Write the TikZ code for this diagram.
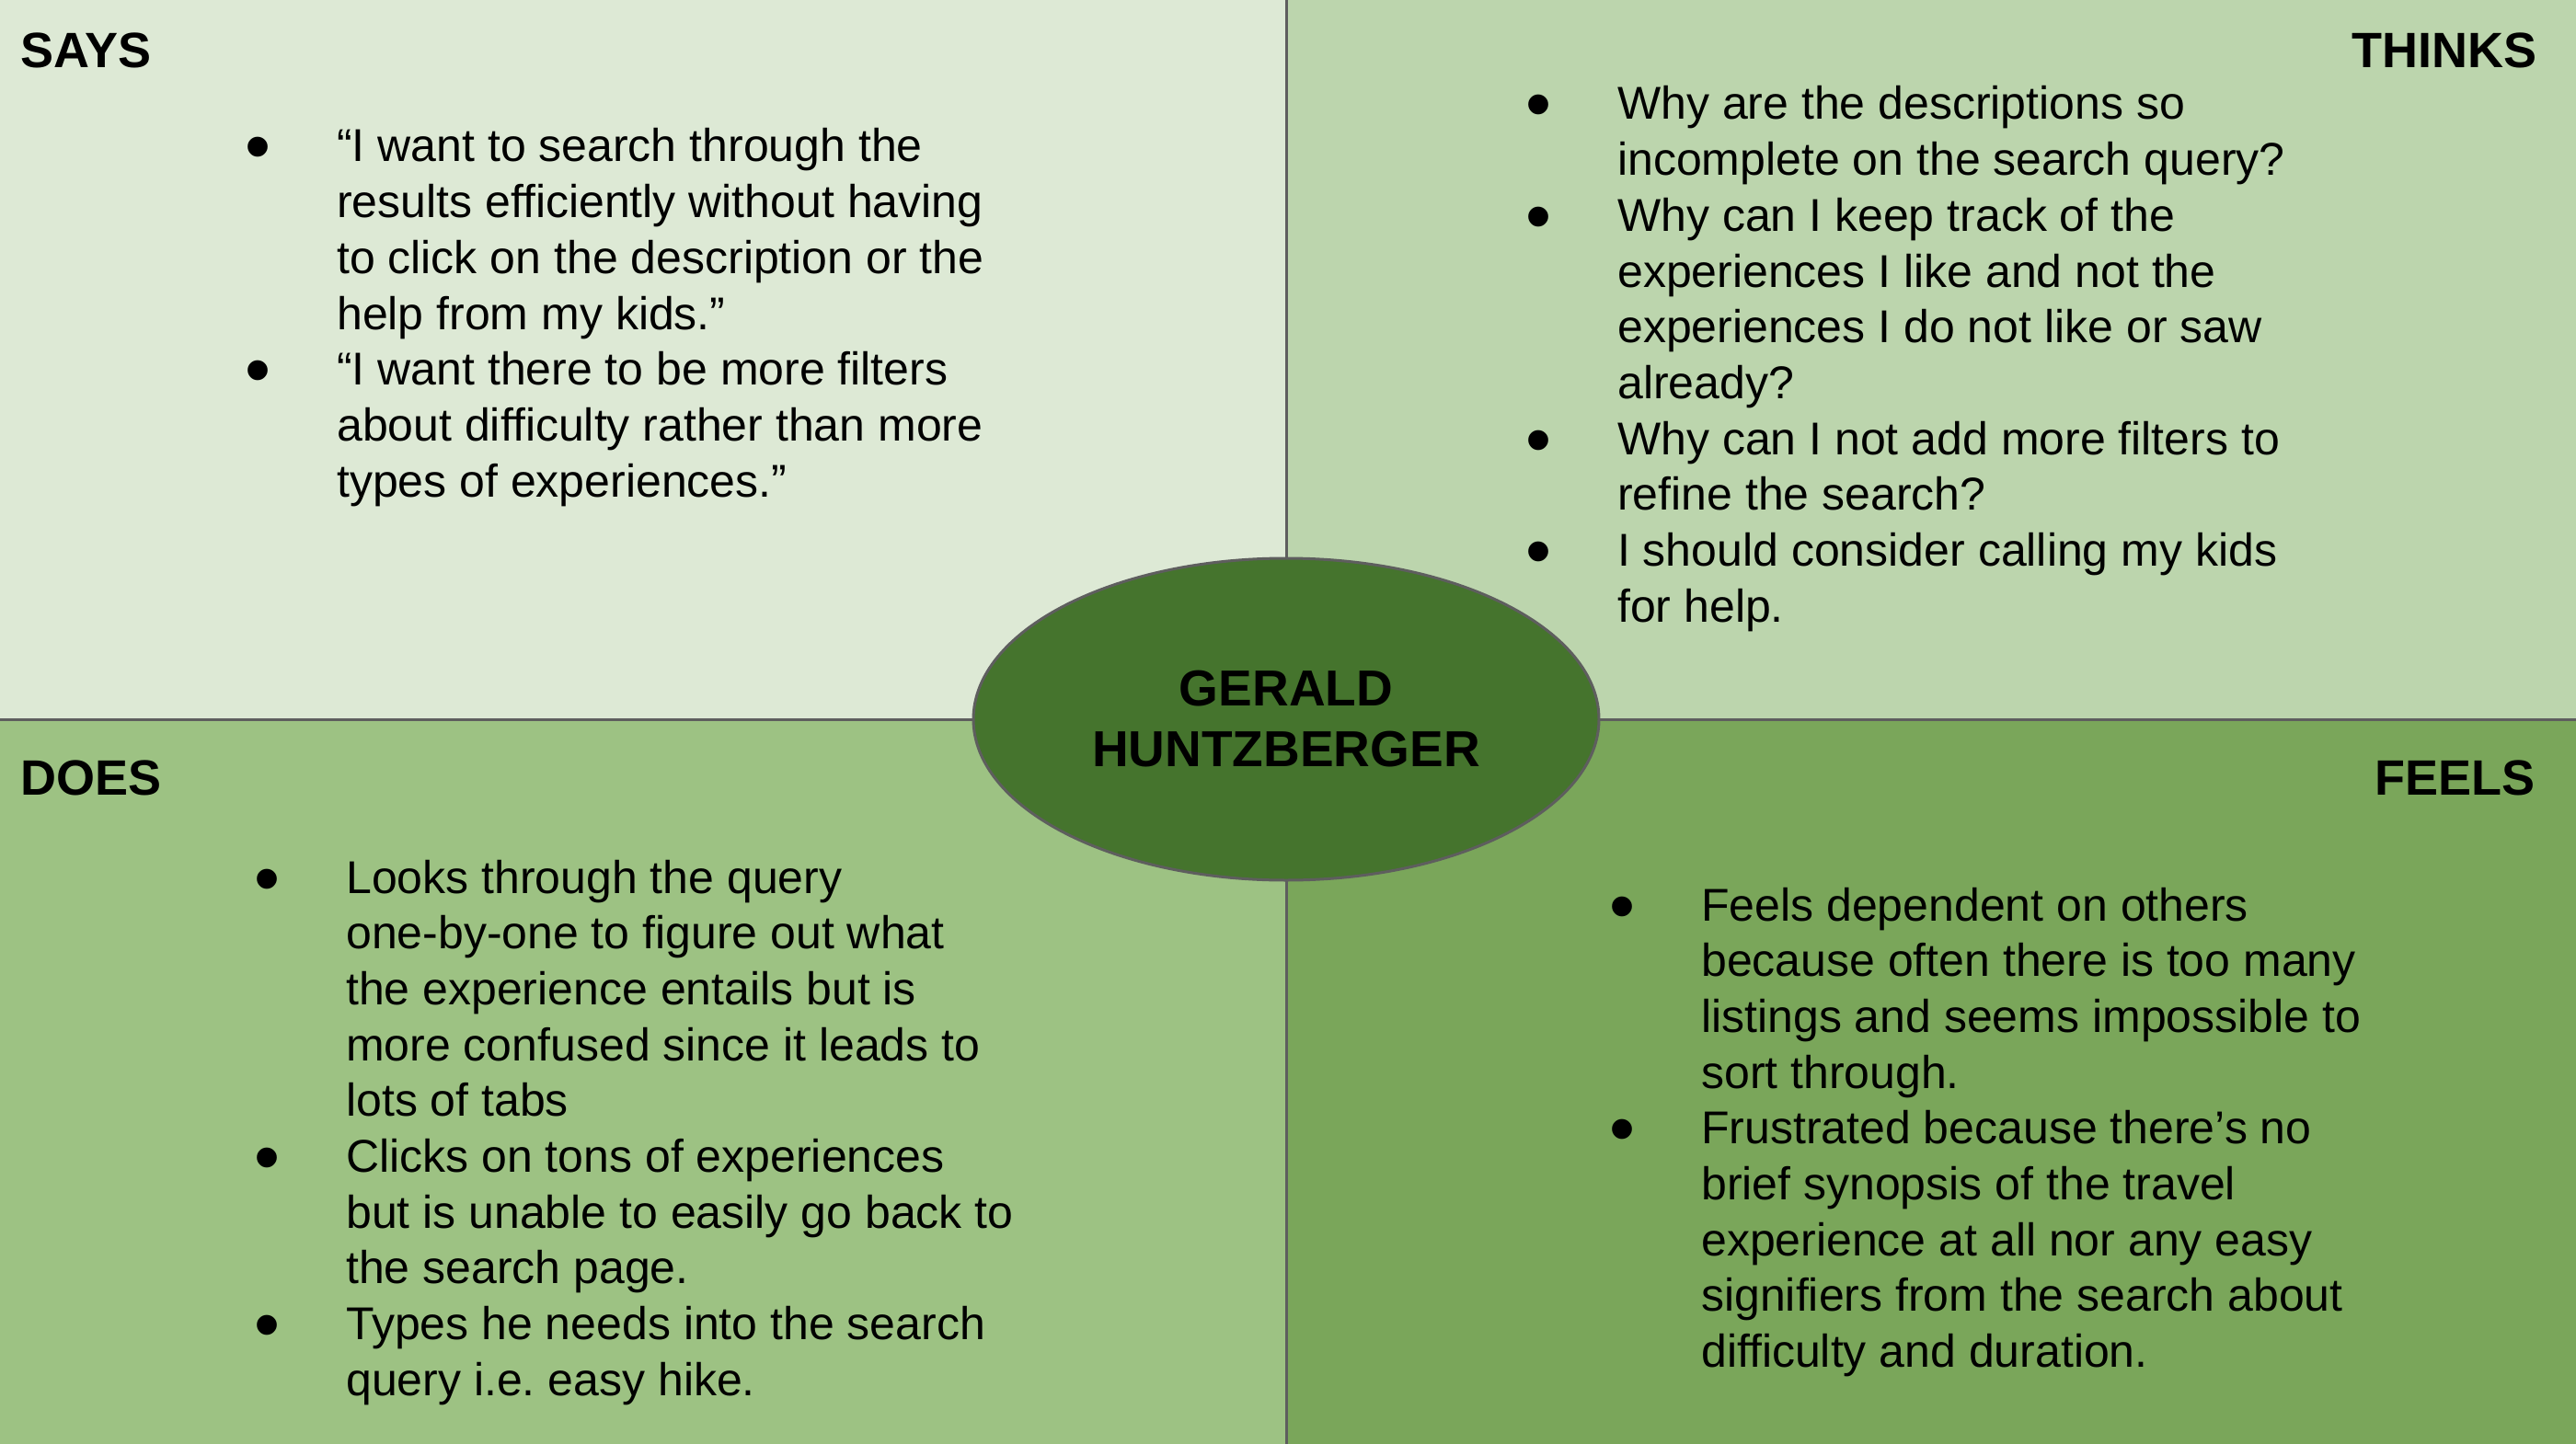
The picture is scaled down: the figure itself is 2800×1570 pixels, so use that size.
\documentclass[tikz,border=0pt]{standalone}
\usepackage{fontspec}
\setmainfont{Liberation Sans}
\usetikzlibrary{shapes.geometric}
\frenchspacing

\definecolor{saysbg}{HTML}{DDE9D5}
\definecolor{thinksbg}{HTML}{BCD5AD}
\definecolor{doesbg}{HTML}{9DC283}
\definecolor{feelsbg}{HTML}{7AA65A}
\definecolor{personabg}{HTML}{45742D}
\definecolor{rulegray}{HTML}{5E5E5E}

% bullet mark, centred in a 20pt box
\newcommand{\dotmark}{\makebox[20pt]{\raisebox{-11pt}{\fontsize{80}{80}\selectfont •}}}
% list: bullet column + text column
\newenvironment{bulletlist}{\begin{tabular}[t]{@{}p{96pt}@{}l@{}}}{\end{tabular}}

\tikzset{
  heading/.style={inner sep=0pt, font=\fontsize{54}{60}\selectfont\bfseries},
  listbox/.style={inner sep=0pt, anchor=base west, font=\fontsize{50}{60.7}\selectfont},
  divider/.style={draw=rulegray, line width=3pt},
  persona/.style={ellipse, draw=rulegray, line width=3pt, fill=personabg,
    minimum width=680pt, minimum height=350pt, inner sep=0pt, align=center,
    font=\fontsize{55}{66}\selectfont\bfseries}
}

\begin{document}
\begin{tikzpicture}[x=1pt, y=-1pt]
\useasboundingbox (0,0) rectangle (2800,1570);

% quadrant backgrounds
\fill[saysbg]   (0,0)      rectangle (1398,782);
\fill[thinksbg] (1398,0)   rectangle (2800,782);
\fill[doesbg]   (0,782)    rectangle (1398,1570);
\fill[feelsbg]  (1398,782) rectangle (2800,1570);

% dividers
\coordinate (vtop) at (1398,0);
\coordinate (vbot) at (1398,1570);
\coordinate (hleft) at (0,782);
\coordinate (hright) at (2800,782);
\draw[divider] (vtop) -- (vbot);
\draw[divider] (hleft) -- (hright);

% headings
\node[heading, anchor=base west] (saysh)   at (22,74)    {SAYS};
\node[heading, anchor=base east] (thinksh) at (2758,74)  {THINKS};
\node[heading, anchor=base west] (doesh)   at (22,864)   {DOES};
\node[heading, anchor=base east] (feelsh)  at (2756,864) {FEELS};

% SAYS
\node[listbox] (says) at (270,176) {\begin{bulletlist}
\dotmark & “I want to search through the\\
 & results efficiently without having\\
 & to click on the description or the\\
 & help from my kids.”\\
\dotmark & “I want there to be more filters\\
 & about difficulty rather than more\\
 & types of experiences.”
\end{bulletlist}};

% THINKS
\node[listbox] (thinks) at (1662,130) {\begin{bulletlist}
\dotmark & Why are the descriptions so\\
 & incomplete on the search query?\\
\dotmark & Why can I keep track of the\\
 & experiences I like and not the\\
 & experiences I do not like or saw\\
 & already?\\
\dotmark & Why can I not add more filters to\\
 & refine the search?\\
\dotmark & I should consider calling my kids\\
 & for help.
\end{bulletlist}};

% DOES
\node[listbox] (does) at (280,971) {\begin{bulletlist}
\dotmark & Looks through the query\\
 & one-by-one to figure out what\\
 & the experience entails but is\\
 & more confused since it leads to\\
 & lots of tabs\\
\dotmark & Clicks on tons of experiences\\
 & but is unable to easily go back to\\
 & the search page.\\
\dotmark & Types he needs into the search\\
 & query i.e. easy hike.
\end{bulletlist}};

% FEELS
\node[listbox] (feels) at (1753,1001) {\begin{bulletlist}
\dotmark & Feels dependent on others\\
 & because often there is too many\\
 & listings and seems impossible to\\
 & sort through.\\
\dotmark & Frustrated because there’s no\\
 & brief synopsis of the travel\\
 & experience at all nor any easy\\
 & signifiers from the search about\\
 & difficulty and duration.
\end{bulletlist}};

% persona in the centre
\node[persona] (name) at (1398,782) {GERALD\\HUNTZBERGER};
\end{tikzpicture}
\end{document}
